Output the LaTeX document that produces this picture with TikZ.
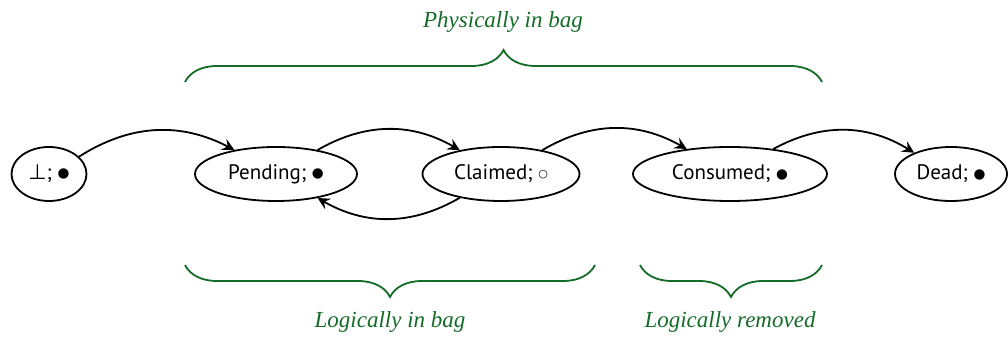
\documentclass[tikz,border=0pt]{standalone}
\usepackage{fontspec}
\setmainfont{PT Sans}
\newfontfamily\symfont{DejaVu Sans}
\newfontfamily\labfont{Liberation Serif}
\usetikzlibrary{shapes.geometric,decorations.pathreplacing,arrows.meta}
\definecolor{bracegreen}{RGB}{20,108,40}
\newcommand{\fullmark}{\raisebox{0.9pt}{\symfont\fontsize{6.8}{7}\selectfont ●}}
\newcommand{\emptymark}{\raisebox{1.1pt}{\symfont\fontsize{5.5}{6}\selectfont ○}}
\begin{document}
\begin{tikzpicture}[x=0.5pt,y=0.5pt,
  state/.style={ellipse,draw,line width=0.9pt,inner sep=0pt,minimum height=27pt,font=\fontsize{10.5}{12}\selectfont},
  trans/.style={-{Stealth[length=6pt,width=6pt,inset=2.2pt]},line width=0.9pt},
  curly/.style={decorate,decoration={brace,amplitude=16pt},draw=bracegreen,line width=0.9pt},
  lab/.style={text=bracegreen,font=\labfont\itshape\fontsize{11.5}{13}\selectfont}]
\useasboundingbox (0,0) rectangle (1008,337);
\node[state,minimum width=37.5pt] (bot) at (49,163) {{\symfont ⊥}; \fullmark};
\node[state,minimum width=81pt] (pend) at (276,163) {Pending; \fullmark};
\node[state,minimum width=78.5pt] (claim) at (501,163) {Claimed; \emptymark};
\node[state,minimum width=97pt] (cons) at (730,163) {Consumed; \fullmark};
\node[state,minimum width=56pt] (dead) at (951,163) {Dead; \fullmark};
\draw[trans] (bot) to[bend left=30] (pend);
\draw[trans] (pend) to[bend left=30] (claim);
\draw[trans] (claim) to[bend left=30] (pend);
\draw[trans] (claim) to[bend left=30] (cons);
\draw[trans] (cons) to[bend left=30] (dead);
\coordinate (pL) at (185,255);
\coordinate (pR) at (822,255);
\coordinate (lL) at (185,72);
\coordinate (lR) at (595,72);
\coordinate (rL) at (640,72);
\coordinate (rR) at (822,72);
\draw[curly] (pL) -- (pR);
\draw[curly] (lR) -- (lL);
\draw[curly] (rR) -- (rL);
\node[lab] (phys) at (503,315) {Physically in bag};
\node[lab] (login) at (390,15) {Logically in bag};
\node[lab] (logrem) at (730,15) {Logically removed};
\end{tikzpicture}
\end{document}
